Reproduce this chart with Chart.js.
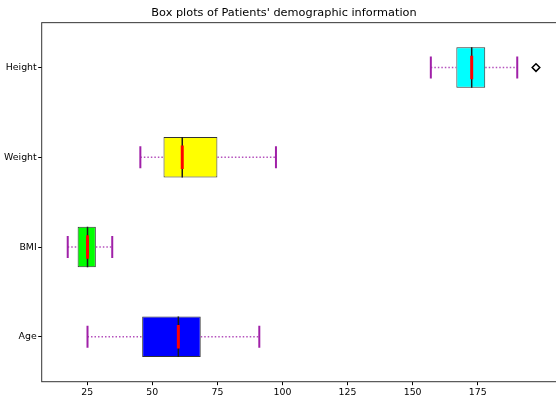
<!DOCTYPE html>
<html lang="en">
<head>
<meta charset="UTF-8">
<title>Box plots of Patients' demographic information</title>
<style>
  body { margin: 0; background: #fff; overflow: hidden; }
  .wrap { width: 568px; height: 402px; overflow: hidden; }
  canvas { display: block; }
</style>
</head>
<body>
<div class="wrap"><canvas id="chart" width="568" height="402" style="width:568px;height:402px"></canvas></div>
<script src="https://cdn.jsdelivr.net/npm/chart.js"></script>
<script>
const categories = ['Height', 'Weight', 'BMI', 'Age'];
const whiskerLow = [157.0, 45.4, 17.5, 25.1];
const q1 = [166.8, 54.3, 21.3, 46.1];
const median = [172.7, 61.5, 25.1, 60.0];
const q3 = [177.9, 75.0, 28.3, 68.6];
const whiskerHigh = [190.2, 97.5, 34.6, 91.1];
const outliers = [[197.4], [], [], []];
const boxColors = ['#00ffff', '#ffff00', '#00ff00', '#0000ff'];
const xTicks = [25, 50, 75, 100, 125, 150, 175];

const tickFont = { family: 'DejaVu Sans', size: 9.4 };
const purple = '#a020a8';

const whiskers = [];
categories.forEach((c, i) => {
    const style = {
        type: 'line', borderColor: '#b450bc', borderWidth: 1.5, borderDash: [1.5, 2],
        pointRadius: 0, pointHoverRadius: 0, fill: false, order: 4
    };
    whiskers.push({ ...style, data: [{ x: whiskerLow[i], y: c }, { x: q1[i], y: c }] });
    whiskers.push({ ...style, data: [{ x: q3[i], y: c }, { x: whiskerHigh[i], y: c }] });
});

// markers drawn as points: vertical lines for caps and medians
function marks(data, opts) {
    return Object.assign({
        type: 'line', showLine: false, data: data,
        pointStyle: 'line', pointRotation: 90, pointHoverRadius: opts.pointRadius
    }, opts);
}

const frame = {
    id: 'frame',
    afterDraw(chart) {
        const a = chart.chartArea, ctx = chart.ctx;
        ctx.save();
        ctx.strokeStyle = '#333';
        ctx.lineWidth = 1;
        ctx.strokeRect(a.left, a.top, a.right - a.left, a.bottom - a.top);
        ctx.restore();
    }
};

new Chart(document.getElementById('chart'), {
    type: 'bar',
    data: {
        labels: categories,
        datasets: [
            marks(categories.map((c, i) => ({ x: median[i], y: c })),
                { pointRadius: 11.8, pointBorderWidth: 3, pointBorderColor: '#ff0000', order: 0 }),
            {
                type: 'line', showLine: false, order: 1,
                data: categories.flatMap((c, i) => outliers[i].map(v => ({ x: v, y: c }))),
                pointStyle: 'rectRot', pointRadius: 3.8, pointHoverRadius: 3.8, pointRotation: 0,
                pointBorderWidth: 1.5, pointBorderColor: '#000', pointBackgroundColor: '#fff'
            },
            marks(categories.flatMap((c, i) => [{ x: whiskerLow[i], y: c }, { x: whiskerHigh[i], y: c }]),
                { pointRadius: 11, pointBorderWidth: 2, pointBorderColor: purple, order: 2 }),
            marks(categories.map((c, i) => ({ x: median[i], y: c })),
                { pointRadius: 20.2, pointBorderWidth: 1.5, pointBorderColor: '#1a1a1a', order: 3 }),
            ...whiskers,
            {
                type: 'bar', order: 5,
                data: categories.map((c, i) => [q1[i], q3[i]]),
                backgroundColor: boxColors, borderColor: '#333', borderWidth: 1,
                borderSkipped: false, barPercentage: 0.45, categoryPercentage: 1
            }
        ]
    },
    options: {
        indexAxis: 'y',
        responsive: false,
        animation: false,
        events: [],
        layout: { padding: 0, autoPadding: false },
        plugins: {
            legend: { display: false },
            tooltip: { enabled: false },
            title: {
                display: true,
                text: "Box plots of Patients' demographic information",
                color: '#000',
                font: { family: 'DejaVu Sans', size: 11.3, weight: 'normal', lineHeight: 1.2 },
                padding: { top: 6, bottom: 3.1 }
            }
        },
        scales: {
            x: {
                type: 'linear', min: 7.5, max: 209.7,
                grid: { drawOnChartArea: false, tickLength: 3.5, tickColor: '#000' },
                border: { display: false },
                ticks: { font: tickFont, color: '#000', padding: 2, maxRotation: 0 },
                afterBuildTicks: s => { s.ticks = xTicks.map(v => ({ value: v })); },
                afterFit: s => { s.height = 20.3; }
            },
            y: {
                type: 'category', offset: true,
                grid: { drawOnChartArea: false, tickLength: 3.5, tickColor: '#000', offset: false },
                border: { display: false },
                ticks: { font: tickFont, color: '#000', padding: 1.5 },
                afterFit: s => { s.width = 41.7; }
            }
        }
    },
    plugins: [frame]
});
</script>
</body>
</html>
